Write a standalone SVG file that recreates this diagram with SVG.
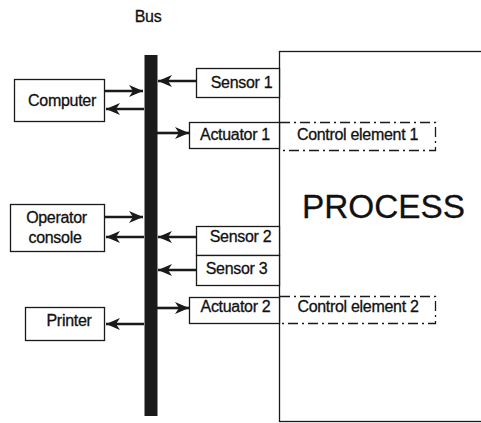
<svg xmlns="http://www.w3.org/2000/svg" width="481" height="423" viewBox="0 0 481 423">
  <style>
    .box { fill: #fff; stroke: #1a1a1a; stroke-width: 1.3; }
    .dash { fill: none; stroke: #1a1a1a; stroke-width: 1.3; stroke-dasharray: 10 4 2 4; }
    .lbl { font-family: "Liberation Sans", Arial, sans-serif; font-size: 16px; fill: #111; stroke: #111; stroke-width: 0.3; text-anchor: middle; letter-spacing: -0.3px; }
    .big { font-family: "Liberation Sans", Arial, sans-serif; font-size: 34px; fill: #111; stroke: #111; stroke-width: 0.3; }
    .wire { stroke: #1a1a1a; stroke-width: 2.6; fill: none; marker-end: url(#head); }
  </style>
  <defs>
    <marker id="head" markerUnits="userSpaceOnUse" markerWidth="15" markerHeight="13" viewBox="0 -6.5 15 13" refX="14" refY="0" orient="auto">
      <path d="M0,-6 L14,0 L0,6 L4,0 Z" fill="#1a1a1a"/>
    </marker>
  </defs>

  <rect width="481" height="423" fill="#fff"/>

  <!-- Bus -->
  <g id="bus">
    <text class="lbl" x="148" y="22">Bus</text>
    <rect x="144.5" y="55" width="13" height="361" fill="#1a1a1a"/>
  </g>

  <!-- Process block -->
  <g id="process">
    <rect class="box" x="279.5" y="51.5" width="220" height="370"/>
    <text class="big" x="302" y="218" textLength="163" lengthAdjust="spacingAndGlyphs">PROCESS</text>
  </g>

  <g id="computer">
    <rect class="box" x="14.5" y="79.5" width="90" height="42"/>
    <text class="lbl" x="62" y="106">Computer</text>
  </g>

  <g id="operator-console">
    <rect class="box" x="10.5" y="204.5" width="94" height="47"/>
    <text class="lbl" x="56.5" y="223">Operator</text>
    <text class="lbl" x="55" y="243">console</text>
  </g>

  <g id="printer">
    <rect class="box" x="25.5" y="307.5" width="79" height="33"/>
    <text class="lbl" x="69" y="326">Printer</text>
  </g>

  <g id="sensor-1">
    <rect class="box" x="196.5" y="68.5" width="83" height="29"/>
    <text class="lbl" x="241.5" y="88">Sensor 1</text>
  </g>

  <g id="actuator-1">
    <rect class="box" x="189.5" y="122.5" width="90" height="26"/>
    <text class="lbl" x="235" y="140">Actuator 1</text>
  </g>

  <g id="control-element-1">
    <path class="dash" d="M280,122.5 H435.5 V150.5 H280"/>
    <text class="lbl" x="357.5" y="140">Control element 1</text>
  </g>

  <g id="sensor-2">
    <rect class="box" x="196.5" y="226.5" width="83" height="29"/>
    <text class="lbl" x="240.5" y="242">Sensor 2</text>
  </g>

  <g id="sensor-3">
    <rect class="box" x="196.5" y="255.5" width="83" height="30"/>
    <text class="lbl" x="236.5" y="274">Sensor 3</text>
  </g>

  <g id="actuator-2">
    <rect class="box" x="189.5" y="297.5" width="90" height="26"/>
    <text class="lbl" x="235.5" y="312">Actuator 2</text>
  </g>

  <g id="control-element-2">
    <path class="dash" d="M280,296.5 H435.5 V323.5 H280"/>
    <text class="lbl" x="358" y="312">Control element 2</text>
  </g>

  <!-- Connectors -->
  <g id="connectors">
    <line class="wire" x1="105" y1="91" x2="143" y2="91"/>
    <line class="wire" x1="144" y1="109" x2="106" y2="109"/>
    <line class="wire" x1="105" y1="217" x2="143" y2="217"/>
    <line class="wire" x1="144" y1="237" x2="106" y2="237"/>
    <line class="wire" x1="144" y1="324" x2="106" y2="324"/>
    <line class="wire" x1="196" y1="81" x2="158" y2="81"/>
    <line class="wire" x1="157" y1="133" x2="189" y2="133"/>
    <line class="wire" x1="196" y1="237" x2="158" y2="237"/>
    <line class="wire" x1="196" y1="270" x2="158" y2="270"/>
    <line class="wire" x1="157" y1="308" x2="189" y2="308"/>
  </g>
</svg>
